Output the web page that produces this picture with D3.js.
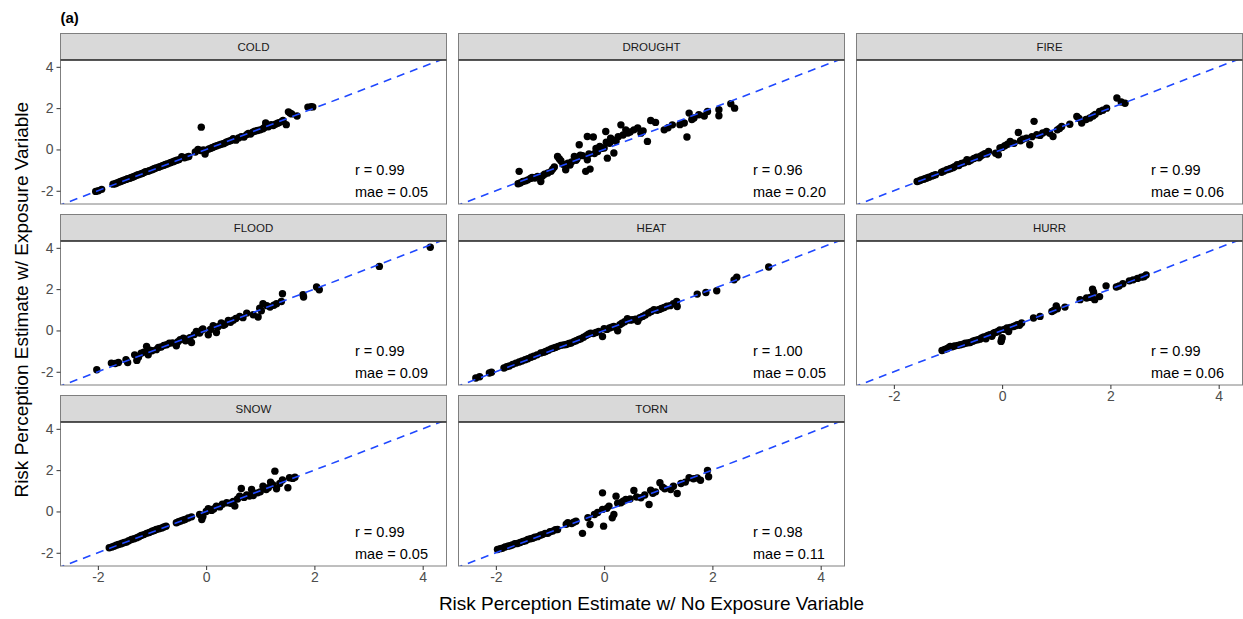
<!DOCTYPE html>
<html>
<head>
<meta charset="utf-8">
<script src="https://cdn.jsdelivr.net/npm/d3@7"></script>
<style>
  body { margin: 0; background: #fff; }
  text { font-family: "Liberation Sans", Arial, sans-serif; }
</style>
</head>
<body>
<div id="chart"></div>
<script>
// hazards, in facet order
const hazards = ["COLD", "DROUGHT", "FIRE", "FLOOD", "HEAT", "HURR", "SNOW", "TORN"];
const rValues = ["0.99", "0.96", "0.99", "0.99", "1.00", "0.99", "0.99", "0.98"];
const maeValues = ["0.05", "0.20", "0.06", "0.09", "0.05", "0.06", "0.05", "0.11"];
const xTicks = [-2, 0, 2, 4];
const yTicks = [-2, 0, 2, 4];

// [no exposure estimate, with exposure estimate]
const cold = [[-2.04,-2.03],[-1.99,-2.00],[-1.93,-1.93],[-1.72,-1.68],[-1.68,-1.66],[-1.65,-1.62],[-1.61,-1.58],
  [-1.58,-1.55],[-1.55,-1.52],[-1.52,-1.49],[-1.48,-1.45],[-1.45,-1.42],[-1.41,-1.39],[-1.38,-1.36],[-1.35,-1.33],
  [-1.32,-1.30],[-1.28,-1.25],[-1.25,-1.22],[-1.21,-1.19],[-1.18,-1.16],[-1.15,-1.12],[-1.12,-1.08],[-1.08,-1.06],
  [-1.05,-1.03],[-1.01,-0.99],[-0.98,-0.96],[-0.95,-0.92],[-0.92,-0.89],[-0.88,-0.86],[-0.85,-0.83],[-0.81,-0.79],
  [-0.78,-0.76],[-0.75,-0.73],[-0.72,-0.70],[-0.68,-0.66],[-0.65,-0.63],[-0.61,-0.59],[-0.58,-0.56],[-0.54,-0.52],
  [-0.50,-0.49],[-0.45,-0.35],[-0.40,-0.40],[-0.36,-0.37],[-0.32,-0.34],[-0.20,-0.12],[-0.15,0.00],[-0.10,-0.05],
  [-0.05,-0.02],[-0.02,-0.22],[0.00,-0.05],[-0.09,1.08],[0.05,0.02],[0.09,0.06],[0.12,0.10],[0.16,0.14],[0.20,0.18],
  [0.24,0.22],[0.28,0.25],[0.32,0.28],[0.35,0.32],[0.38,0.36],[0.42,0.40],[0.46,0.43],[0.50,0.52],[0.55,0.45],
  [0.60,0.56],[0.65,0.62],[0.70,0.60],[0.75,0.72],[0.78,0.78],[0.82,0.75],[0.86,0.84],[0.90,0.88],[0.95,0.92],
  [1.00,0.95],[1.05,1.00],[1.08,1.06],[1.10,1.28],[1.12,1.18],[1.15,1.10],[1.20,1.20],[1.24,1.16],[1.28,1.22],
  [1.32,1.27],[1.35,1.30],[1.40,1.36],[1.42,1.40],[1.48,1.20],[1.52,1.82],[1.55,1.76],[1.58,1.72],[1.68,1.62],
  [1.88,2.05],[1.94,2.07],[1.97,2.06]];
const drought = [[-1.57,-1.06],[-1.59,-1.66],[-1.55,-1.62],[-1.50,-1.55],[-1.45,-1.52],[-1.41,-1.47],[-1.36,-1.40],
  [-1.33,-1.36],[-1.28,-1.38],[-1.23,-1.31],[-1.17,-1.55],[-1.14,-1.28],[-1.10,-1.20],[-1.04,-1.14],[-0.98,-1.06],
  [-0.95,-0.95],[-0.92,-0.85],[-0.86,-0.34],[-0.83,-0.45],[-0.80,-0.55],[-0.76,-0.72],[-0.71,-0.98],[-0.67,-0.66],
  [-0.63,-0.75],[-0.60,-0.60],[-0.55,-0.34],[-0.52,-0.52],[-0.50,-0.45],[-0.46,0.23],[-0.44,-0.28],[-0.40,-0.30],
  [-0.34,-1.06],[-0.31,0.63],[-0.31,-0.50],[-0.28,-0.22],[-0.26,-0.95],[-0.20,0.60],[-0.18,-0.20],[-0.15,0.05],
  [-0.12,-0.10],[-0.08,0.15],[-0.05,0.05],[0.00,0.07],[0.03,0.87],[0.04,0.35],[0.06,-0.42],[0.10,0.30],[0.12,0.55],
  [0.15,0.47],[0.18,-0.17],[0.22,0.40],[0.26,0.62],[0.31,1.19],[0.35,0.70],[0.40,0.95],[0.44,0.80],[0.48,0.85],
  [0.55,0.95],[0.62,1.04],[0.68,0.79],[0.72,0.90],[0.80,0.39],[0.86,1.40],[0.95,1.31],[1.11,0.95],[1.18,1.05],
  [1.26,1.19],[1.40,1.20],[1.48,1.28],[1.53,0.60],[1.57,1.76],[1.62,1.45],[1.66,1.52],[1.75,1.68],[1.85,1.62],
  [1.91,1.84],[2.12,1.63],[2.12,1.92],[2.34,2.21],[2.41,2.00]];
const fire = [[-1.57,-1.55],[-1.53,-1.52],[-1.50,-1.48],[-1.45,-1.44],[-1.42,-1.41],[-1.39,-1.38],[-1.35,-1.34],
  [-1.30,-1.29],[-1.27,-1.26],[-1.23,-1.22],[-1.12,-1.10],[-1.08,-1.05],[-1.02,-0.98],[-0.98,-0.95],[-0.95,-0.92],
  [-0.91,-0.88],[-0.88,-0.84],[-0.83,-0.74],[-0.80,-0.78],[-0.75,-0.68],[-0.70,-0.64],[-0.65,-0.50],[-0.62,-0.58],
  [-0.58,-0.52],[-0.52,-0.44],[-0.47,-0.37],[-0.43,-0.40],[-0.40,-0.33],[-0.36,-0.26],[-0.32,-0.20],[-0.28,-0.22],
  [-0.25,-0.10],[-0.12,-0.18],[-0.07,-0.26],[-0.04,0.07],[0.00,0.10],[0.05,0.18],[0.10,0.25],[0.15,0.39],
  [0.22,0.30],[0.30,0.82],[0.34,0.42],[0.38,0.50],[0.45,0.55],[0.51,0.23],[0.55,0.62],[0.59,1.36],[0.64,0.71],
  [0.70,0.68],[0.75,0.80],[0.82,0.87],[0.88,0.78],[0.94,0.63],[1.02,0.95],[1.06,1.02],[1.10,1.11],[1.25,1.22],
  [1.38,1.60],[1.42,1.50],[1.47,1.28],[1.55,1.45],[1.62,1.52],[1.68,1.62],[1.72,1.70],[1.80,1.84],[1.86,1.90],
  [1.93,2.00],[2.12,2.49],[2.20,2.30],[2.27,2.24]];
const flood = [[-2.02,-1.90],[-1.75,-1.58],[-1.68,-1.60],[-1.62,-1.55],[-1.48,-1.42],[-1.45,-1.55],[-1.32,-1.18],
  [-1.28,-1.45],[-1.25,-1.30],[-1.20,-1.10],[-1.15,-1.05],[-1.10,-0.77],[-1.07,-1.18],[-1.04,-0.95],[-1.00,-0.98],
  [-0.92,-0.93],[-0.88,-0.82],[-0.83,-0.80],[-0.78,-0.72],[-0.73,-0.69],[-0.68,-0.62],[-0.62,-0.60],[-0.55,-0.74],
  [-0.52,-0.55],[-0.48,-0.45],[-0.42,-0.37],[-0.38,-0.50],[-0.35,-0.42],[-0.30,-0.35],[-0.27,-0.58],[-0.22,-0.20],
  [-0.18,-0.05],[-0.12,-0.12],[-0.08,0.02],[-0.06,0.07],[0.04,-0.21],[0.08,0.05],[0.13,0.23],[0.19,-0.10],
  [0.22,0.18],[0.28,0.36],[0.32,0.25],[0.35,0.30],[0.41,0.49],[0.45,0.40],[0.50,0.50],[0.55,0.58],[0.62,0.68],
  [0.68,0.62],[0.75,0.84],[0.87,0.76],[0.96,0.65],[0.99,1.08],[1.02,0.95],[1.05,1.29],[1.12,1.20],[1.18,1.13],
  [1.25,1.22],[1.30,1.29],[1.39,1.40],[1.41,1.78],[1.79,1.73],[1.80,1.62],[2.04,2.10],[2.09,1.97],[3.20,3.10],
  [4.14,4.03]];
const heat = [[-2.37,-2.30],[-2.30,-2.24],[-2.12,-2.06],[-2.08,-2.02],[-1.85,-1.82],[-1.80,-1.76],[-1.75,-1.72],
  [-1.69,-1.64],[-1.63,-1.58],[-1.57,-1.53],[-1.52,-1.48],[-1.46,-1.42],[-1.41,-1.37],[-1.35,-1.30],[-1.30,-1.25],
  [-1.24,-1.18],[-1.17,-1.09],[-1.12,-1.06],[-1.08,-1.02],[-1.03,-0.96],[-0.98,-0.89],[-0.94,-0.86],[-0.90,-0.82],
  [-0.85,-0.77],[-0.80,-0.72],[-0.75,-0.70],[-0.70,-0.68],[-0.65,-0.63],[-0.61,-0.61],[-0.56,-0.54],[-0.52,-0.50],
  [-0.47,-0.44],[-0.43,-0.40],[-0.38,-0.33],[-0.33,-0.25],[-0.29,-0.18],[-0.25,-0.13],[-0.20,-0.15],[-0.15,-0.10],
  [-0.10,-0.05],[-0.03,-0.29],[0.00,0.08],[0.05,0.05],[0.10,0.12],[0.14,0.16],[0.18,0.19],[0.25,-0.02],
  [0.29,0.28],[0.33,0.35],[0.38,0.42],[0.43,0.57],[0.48,0.50],[0.52,0.52],[0.58,0.55],[0.62,0.44],[0.66,0.62],
  [0.71,0.68],[0.76,0.75],[0.82,0.85],[0.87,0.92],[0.92,1.00],[0.98,0.98],[1.02,1.02],[1.06,1.06],[1.11,1.11],
  [1.16,1.18],[1.22,1.20],[1.28,1.30],[1.34,1.40],[1.35,1.16],[1.72,1.76],[1.88,1.84],[2.08,1.92],[2.40,2.45],
  [2.45,2.58],[3.04,3.07]];
const hurr = [[-1.11,-0.97],[-1.06,-0.92],[-1.02,-0.88],[-0.99,-0.83],[-0.96,-0.77],[-0.92,-0.79],[-0.88,-0.75],
  [-0.82,-0.72],[-0.77,-0.69],[-0.72,-0.66],[-0.68,-0.62],[-0.63,-0.60],[-0.59,-0.58],[-0.54,-0.52],[-0.50,-0.48],
  [-0.45,-0.45],[-0.41,-0.42],[-0.38,-0.36],[-0.34,-0.32],[-0.30,-0.40],[-0.28,-0.26],[-0.25,-0.23],[-0.22,-0.20],
  [-0.19,-0.28],[-0.16,-0.13],[-0.13,-0.10],[-0.10,-0.08],[-0.07,-0.04],[-0.04,0.03],[-0.02,-0.53],[0.00,-0.35],
  [-0.01,-0.45],[0.04,0.05],[0.09,0.12],[0.12,-0.05],[0.15,0.15],[0.21,0.19],[0.24,0.22],[0.28,0.28],[0.32,0.25],
  [0.36,0.36],[0.58,0.60],[0.70,0.68],[0.92,0.92],[0.96,0.98],[1.00,1.19],[1.02,1.05],[1.16,1.13],[1.44,1.49],
  [1.56,1.57],[1.63,1.60],[1.67,2.00],[1.69,1.85],[1.71,1.49],[1.80,1.64],[1.92,2.16],[2.11,2.10],[2.16,2.15],
  [2.23,2.26],[2.35,2.40],[2.42,2.45],[2.50,2.52],[2.57,2.58],[2.62,2.60],[2.66,2.69]];
const snow = [[-1.79,-1.76],[-1.74,-1.72],[-1.70,-1.68],[-1.66,-1.63],[-1.62,-1.60],[-1.58,-1.57],[-1.55,-1.54],
  [-1.51,-1.50],[-1.47,-1.48],[-1.43,-1.42],[-1.38,-1.36],[-1.33,-1.32],[-1.28,-1.27],[-1.24,-1.22],[-1.20,-1.16],
  [-1.15,-1.12],[-1.10,-1.06],[-1.05,-1.02],[-1.00,-0.96],[-0.96,-0.92],[-0.92,-0.87],[-0.87,-0.84],[-0.82,-0.80],
  [-0.78,-0.75],[-0.74,-0.71],[-0.55,-0.55],[-0.51,-0.50],[-0.47,-0.46],[-0.43,-0.42],[-0.39,-0.39],[-0.33,-0.32],
  [-0.27,-0.26],[-0.08,-0.39],[-0.06,-0.25],[-0.12,-0.15],[0.00,0.00],[0.04,0.13],[0.10,0.05],[0.14,0.12],
  [0.19,0.26],[0.25,0.22],[0.30,0.35],[0.38,0.42],[0.45,0.40],[0.50,0.48],[0.53,0.26],[0.58,0.60],[0.62,0.74],
  [0.65,1.11],[0.70,0.68],[0.75,0.80],[0.80,0.75],[0.84,1.06],[0.87,0.77],[0.95,0.90],[1.00,0.95],[1.05,1.22],
  [1.11,1.06],[1.15,1.15],[1.19,1.42],[1.23,1.30],[1.27,1.95],[1.30,1.10],[1.36,1.35],[1.41,1.52],[1.51,1.15],
  [1.54,1.63],[1.60,1.60],[1.64,1.66]];
const torn = [[-1.97,-1.84],[-1.92,-1.80],[-1.88,-1.78],[-1.83,-1.72],[-1.78,-1.68],[-1.74,-1.66],[-1.70,-1.62],
  [-1.65,-1.56],[-1.60,-1.55],[-1.55,-1.50],[-1.50,-1.45],[-1.45,-1.42],[-1.41,-1.35],[-1.36,-1.32],[-1.32,-1.30],
  [-1.28,-1.25],[-1.23,-1.22],[-1.18,-1.15],[-1.14,-1.12],[-1.09,-1.06],[-1.04,-1.06],[-1.00,-0.98],[-0.95,-0.95],
  [-0.90,-0.88],[-0.86,-0.87],[-0.70,-0.62],[-0.67,-0.55],[-0.60,-0.58],[-0.56,-0.52],[-0.52,-0.47],[-0.40,-1.06],
  [-0.30,-0.30],[-0.26,-0.63],[-0.18,-0.15],[-0.12,-0.05],[-0.03,0.90],[-0.01,-0.71],[-0.03,0.10],[0.05,0.15],
  [0.09,0.26],[0.15,-0.31],[0.18,-0.15],[0.22,0.74],[0.25,0.40],[0.31,0.42],[0.35,0.50],[0.40,0.58],[0.48,0.60],
  [0.55,1.02],[0.60,0.70],[0.68,0.66],[0.75,0.80],[0.83,0.34],[0.86,1.03],[0.90,0.88],[0.95,0.95],[1.03,1.39],
  [1.08,1.18],[1.12,1.10],[1.23,1.06],[1.28,1.22],[1.35,0.87],[1.42,1.35],[1.50,1.42],[1.57,1.63],[1.65,1.58],
  [1.72,1.62],[1.78,1.51],[1.91,1.98],[1.93,1.68]];
const series = [cold, drought, fire, flood, heat, hurr, snow, torn];

const W = 1243, H = 619;
const colLeft = [60.5, 458.5, 856.5];
const rowTop = [33.5, 214.5, 395.5];
const pw = 386, ph = 144, stripH = 26.5;

const svg = d3.select("#chart").append("svg")
  .attr("width", W)
  .attr("height", H);

const x = d3.scaleLinear().domain([-2.69, 4.44]).range([0, pw]);
const y = d3.scaleLinear().domain([-2.64, 4.33]).range([ph, 0]);
const tickFmt = function(d) { return d < 0 ? "-" + Math.abs(d) : String(d); };

svg.append("defs").append("clipPath").attr("id", "clip")
  .append("rect").attr("width", pw).attr("height", ph);

hazards.forEach(function(h, i) {
  var col = i % 3, row = Math.floor(i / 3);
  var g = svg.append("g")
    .attr("transform", "translate(" + colLeft[col] + "," + (rowTop[row] + stripH) + ")");

  // strip
  g.append("rect")
    .attr("y", -stripH).attr("width", pw).attr("height", stripH)
    .attr("fill", "#d9d9d9").attr("stroke", "#7f7f7f").attr("stroke-width", 1);
  g.append("text")
    .attr("x", pw / 2).attr("y", -stripH / 2).attr("dy", "0.36em")
    .attr("text-anchor", "middle").attr("font-size", 11.5).attr("fill", "#1a1a1a")
    .text(h);

  // panel background
  g.append("rect").attr("width", pw).attr("height", ph).attr("fill", "#fff");

  var plot = g.append("g").attr("clip-path", "url(#clip)");
  plot.selectAll("circle")
    .data(series[i])
    .enter().append("circle")
    .attr("cx", function(d) { return x(d[0]); })
    .attr("cy", function(d) { return y(d[1]); })
    .attr("r", 3.7)
    .attr("fill", "#000");

  // 1:1 line
  plot.append("line")
    .attr("x1", x(-3)).attr("y1", y(-3))
    .attr("x2", x(5)).attr("y2", y(5))
    .attr("stroke", "#1f48ff").attr("stroke-width", 1.6)
    .attr("stroke-dasharray", "8,6");

  // r / mae annotation
  g.append("text")
    .attr("x", x(2.75)).attr("y", y(-1)).attr("dy", "0.36em")
    .attr("font-size", 14.5).attr("fill", "#000")
    .text("r = " + rValues[i]);
  g.append("text")
    .attr("x", x(2.75)).attr("y", y(-2.05)).attr("dy", "0.36em")
    .attr("font-size", 14.5).attr("fill", "#000")
    .text("mae = " + maeValues[i]);

  // border
  g.append("rect").attr("width", pw).attr("height", ph)
    .attr("fill", "none").attr("stroke", "#7f7f7f").attr("stroke-width", 1);
  g.append("line").attr("x1", 0).attr("x2", pw).attr("y1", 0).attr("y2", 0)
    .attr("stroke", "#333").attr("stroke-width", 1.5);

  // y axis on first column
  if (col === 0) {
    var ya = g.append("g").call(d3.axisLeft(y).tickValues(yTicks).tickFormat(tickFmt).tickSize(4).tickPadding(3));
    ya.select(".domain").remove();
    ya.selectAll("line").attr("stroke", "#333");
    ya.selectAll("text").attr("font-size", 14).attr("fill", "#4d4d4d").style("font-family", "Liberation Sans, Arial, sans-serif");
  }
  // x axis on bottom panel of each column
  if (i >= hazards.length - 3) {
    var xa = g.append("g").attr("transform", "translate(0," + ph + ")")
      .call(d3.axisBottom(x).tickValues(xTicks).tickFormat(tickFmt).tickSize(4).tickPadding(2));
    xa.select(".domain").remove();
    xa.selectAll("line").attr("stroke", "#333");
    xa.selectAll("text").attr("font-size", 14).attr("fill", "#4d4d4d").style("font-family", "Liberation Sans, Arial, sans-serif");
  }
});

// axis titles
svg.append("text")
  .attr("x", (colLeft[0] + colLeft[2] + pw) / 2).attr("y", 610)
  .attr("text-anchor", "middle").attr("font-size", 19)
  .text("Risk Perception Estimate w/ No Exposure Variable");

svg.append("text")
  .attr("transform", "translate(28," + ((rowTop[0] + rowTop[2] + stripH + ph) / 2) + ") rotate(-90)")
  .attr("text-anchor", "middle").attr("font-size", 19)
  .text("Risk Perception Estimate w/ Exposure Variable");

svg.append("text")
  .attr("x", colLeft[0]).attr("y", 23)
  .attr("font-size", 15).attr("font-weight", "bold")
  .text("(a)");
</script>
</body>
</html>
